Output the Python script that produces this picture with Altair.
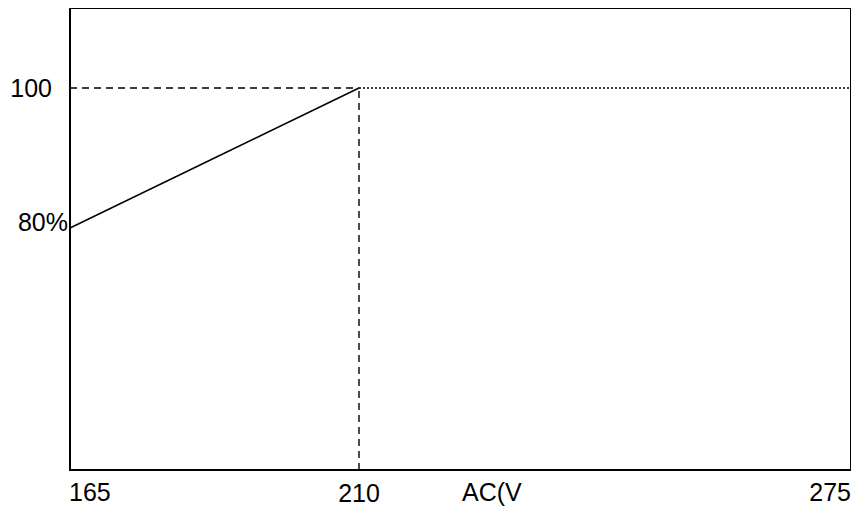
import altair as alt
import pandas as pd

# Data
curve_x = [165, 210]
curve_y = [80, 100]
flat_x = [210, 275]
flat_y = [100, 100]
ref_h_x = [165, 210]
ref_h_y = [100, 100]
ref_v_x = [210, 210]
ref_v_y = [45.43, 100]

x_ticks = [165, 210, 275]
x_tick_labels = ["165", "210", "275"]
x_tick_align = ["left", "center", "right"]
y_ticks = [100, 80]
y_tick_labels = ["100", "80%"]
x_title = "AC(V"

W, H = 781, 462
xscale = alt.Scale(domain=[165, 210, 275], range=[0, 289, W])
yscale = alt.Scale(domain=[45.43, 111.43], nice=False, zero=False)

X = lambda: alt.X("x:Q", scale=xscale, axis=None)
Y = lambda: alt.Y("y:Q", scale=yscale, axis=None)

curve = alt.Chart(pd.DataFrame({"x": curve_x, "y": curve_y})).mark_line(
    color="black", strokeWidth=1.6).encode(x=X(), y=Y())
flat = alt.Chart(pd.DataFrame({"x": flat_x, "y": flat_y})).mark_line(
    color="black", strokeWidth=1.4, strokeDash=[2, 2]).encode(x=X(), y=Y())
ref_h = alt.Chart(pd.DataFrame({"x": ref_h_x, "y": ref_h_y})).mark_line(
    color="black", strokeWidth=1.4, strokeDash=[7, 5]).encode(x=X(), y=Y())
ref_v = alt.Chart(pd.DataFrame({"x": ref_v_x, "y": ref_v_y})).mark_line(
    color="black", strokeWidth=1.4, strokeDash=[7, 5]).encode(x=X(), y=Y())

font = "Arial, Liberation Sans, sans-serif"
fs = 25

xt = pd.DataFrame({"x": x_ticks, "label": x_tick_labels, "al": x_tick_align})
xlabels = []
for i, row in xt.iterrows():
    dyv = 1 if row["label"] == "210" else 0
    dxv = {"left": -1, "center": 0, "right": 0}[row["al"]]
    xlabels.append(
        alt.Chart(xt.iloc[[i]]).mark_text(
            font=font, fontSize=fs, align=row["al"], baseline="alphabetic",
            dx=dxv, dy=dyv, color="black"
        ).encode(x=X(), y=alt.value(493), text="label:N")
    )

yt = pd.DataFrame({"y": y_ticks, "label": y_tick_labels})
ylab100 = alt.Chart(yt.iloc[[0]]).mark_text(
    font=font, fontSize=fs, align="right", baseline="middle", dx=-18, dy=1, color="black"
).encode(x=alt.value(0), y=Y(), text="label:N")
ylab80 = alt.Chart(yt.iloc[[1]]).mark_text(
    font=font, fontSize=fs, align="right", baseline="middle", dx=-2, dy=-5, color="black"
).encode(x=alt.value(0), y=Y(), text="label:N")

title = alt.Chart(pd.DataFrame({"t": [x_title]})).mark_text(
    font=font, fontSize=fs, align="left", baseline="alphabetic", color="black"
).encode(x=alt.value(392), y=alt.value(493), text="t:N")

chart = alt.layer(curve, flat, ref_h, ref_v, *xlabels, ylab100, ylab80, title).properties(
    width=W, height=H,
    padding={"left": 62, "top": 0, "right": 0, "bottom": 40},
    autosize=alt.AutoSizeParams(type="none"),
).configure_view(stroke="black", strokeWidth=2)

chart.save("out.html", embed_options={"renderer": "svg", "actions": False})
